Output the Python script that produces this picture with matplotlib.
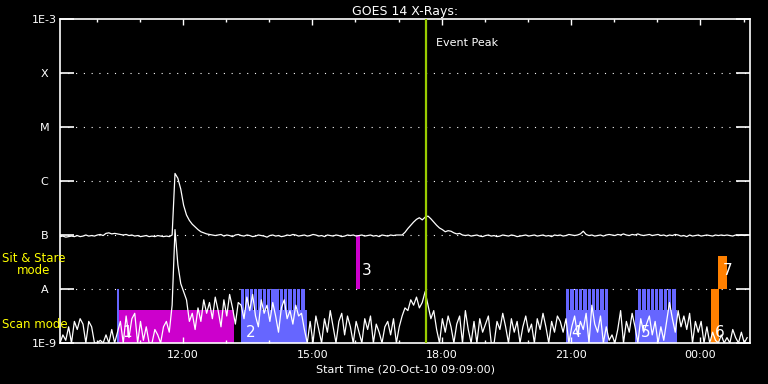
import numpy as np
import matplotlib
matplotlib.use('Agg')
import matplotlib.pyplot as plt
from matplotlib.ticker import FixedLocator, NullLocator

# ---- data (time in hours of day, flux as log10 W/m^2) ----
t_start = 9.15          # 09:09
t_end = 25.15           # 01:09 next day
cadence = 4.0 / 60.0    # 4 minute samples

# 0.5-4 A channel (lower curve)
short_log = [
    -9.0, -8.85, -8.95, -8.7, -9.0, -8.6, -8.75, -8.55, -8.65, -9.0, -8.6,
    -8.7, -9.0, -9.0, -8.95, -9.0, -8.85, -9.0, -8.75, -9.0,
    -8.8, -8.6, -9.0, -8.5, -8.9, -8.55, -8.45, -9.0, -8.6, -8.95, -8.7, -9.0, -9.0, -8.75, -8.85, -9.0, -8.7, -8.6, -8.8,
    -8.3, -6.9, -7.55, -7.9, -8.05, -8.2, -8.6, -8.45,
    -8.75, -8.35, -8.6, -8.2, -8.45, -8.25, -8.55, -8.15, -8.4, -8.7, -8.2, -8.5, -8.1, -8.35, -8.65, -8.25,
    -8.3, -8.55, -8.15, -8.4, -8.1, -8.5, -8.7, -8.2, -8.45, -8.3, -8.6, -8.25, -8.5, -8.8, -8.35, -8.2, -8.55, -8.4, -8.65, -8.3, -8.5, -8.45, -8.75,
    -9.0, -8.6, -9.0, -8.5, -8.75, -9.0, -8.55, -8.8, -8.4, -8.7, -9.0, -8.6, -8.45, -8.85, -8.5, -8.7, -9.0, -8.6, -8.8, -9.0, -8.55, -8.75, -8.5, -9.0, -8.65, -8.8, -9.0, -8.7, -8.6, -8.85, -8.55, -9.0,
    -8.7, -8.5, -8.35, -8.4, -8.2, -8.3, -8.15, -8.35, -8.25, -8.05, -8.3, -8.55, -8.4, -8.75,
    -9.0, -8.55, -8.8, -8.5, -8.7, -9.0, -8.65, -8.5, -9.0, -8.4, -8.75, -9.0, -8.6, -9.0, -8.55, -8.8, -8.65, -8.5, -9.0, -9.0, -8.6,
    -8.75, -8.45, -8.7, -9.0, -8.55, -8.8, -8.6, -9.0, -8.7, -8.5, -8.8, -8.65, -9.0, -8.55, -8.75, -8.45, -8.7, -9.0, -8.6, -8.8, -8.5,
    -8.6, -8.8, -8.55, -9.0, -8.7, -8.5, -8.85, -8.6, -8.75, -8.45, -9.0, -8.3, -8.65, -8.8, -8.5, -9.0, -8.7, -8.95, -8.85, -9.0,
    -8.75, -8.4, -9.0, -8.6, -8.8, -8.45, -8.7, -9.0, -8.55, -8.8, -8.65, -8.5, -8.85, -8.6, -9.0, -8.7, -8.95, -8.6, -8.25, -8.55,
    -8.8, -8.4, -8.7, -8.5, -8.75, -8.45, -9.0, -8.6, -8.8,
    -8.6, -9.0, -8.7, -9.0, -8.8, -8.95, -9.0, -8.85, -9.0, -8.9, -9.0, -8.75, -8.9, -9.0, -8.8, -9.0, -8.9,
]

# 1-8 A channel (upper curve)
long_log = [
    -7.03, -7.02, -7.04, -7.03, -7.02, -7.03, -7.01, -7.03, -7.02, -7.0, -7.02,
    -7.01, -7.02, -7.0, -6.99, -7.01, -6.97, -6.96, -6.98, -6.97,
    -6.98, -6.99, -7.0, -6.99, -7.01, -7.0, -7.02, -7.01, -7.03, -7.02, -7.01, -7.03, -7.02, -7.03, -7.01, -7.02, -7.03, -7.02, -7.03,
    -7.0, -5.86, -5.95, -6.15, -6.45, -6.63, -6.73, -6.8, -6.85, -6.9, -6.94, -6.96, -6.98, -6.99, -7.0,
    -7.01, -7.0, -6.99, -7.02, -7.0, -7.01, -7.03, -7.0, -6.99, -7.01, -7.02, -7.0, -7.01, -7.03, -7.02, -7.0,
    -7.01, -7.02, -7.04, -7.01, -7.0, -7.02, -7.01, -7.03, -7.02, -7.0, -7.01, -6.99, -7.0, -7.02, -7.01, -7.0,
    -7.02, -7.01, -6.99, -7.0, -7.02, -7.01, -7.03, -7.0, -7.01, -7.02, -7.0, -7.01, -7.03, -7.02, -7.0, -7.01,
    -7.0, -7.02, -7.01, -7.0, -7.02, -7.01, -7.0, -7.02, -7.01, -7.03, -7.0, -7.01, -7.02, -7.0, -7.01, -7.0, -7.0,
    -7.0, -6.95, -6.88, -6.82, -6.76, -6.71, -6.68, -6.72, -6.67, -6.65, -6.7, -6.76, -6.82, -6.87, -6.9, -6.94,
    -6.92, -6.93, -6.96, -6.98, -6.97, -7.0,
    -7.01, -7.0, -7.02, -7.01, -7.0, -7.02, -7.03, -7.01, -7.0, -7.02, -7.01, -7.03, -7.02, -7.0, -7.01, -7.02,
    -7.0, -7.01, -7.03, -7.02, -7.01, -7.0, -7.02, -7.01, -7.0, -7.02, -7.01, -7.0, -7.02, -7.01, -7.03, -7.0,
    -7.01, -7.0, -7.02, -7.01, -6.99, -7.0, -7.01, -7.0, -6.98, -6.93, -6.99, -7.01, -7.0, -7.02, -7.01, -7.0,
    -7.02, -7.0, -6.99, -7.0, -7.01, -6.99, -7.0, -6.98, -7.0, -7.01, -6.99, -7.0, -6.98, -7.0, -7.01, -7.0,
    -6.99, -7.01, -7.0, -6.99, -7.01, -7.0, -7.02, -7.0, -7.01, -6.99, -7.0, -7.02, -7.01, -7.03, -7.0, -7.02,
    -7.01, -7.0, -7.02, -7.01, -7.0, -7.01, -7.02, -7.0, -7.01, -7.0, -7.01, -7.0, -7.01, -7.02, -7.0, -7.01,
    -7.0, -7.01, -7.0,
]

# scan mode boxes (lower part, full)
scan_start = [10.52, 13.347, 20.883, 22.48]
scan_end = [13.18, 14.877, 21.857, 23.457]
scan_color = ['#cc00cc', '#6666ff', '#6666ff', '#6666ff']

# raster stripes above scan boxes
stripe_start = [13.347, 20.883, 22.55]
stripe_count = [15, 10, 9]
stripe_step = 0.1
stripe_width = 0.077

# full height scan-mode bars
bar_start = [10.47, 24.25]
bar_end = [10.52, 24.43]
bar_color = ['#6666ff', '#ff8000']

# sit & stare bars
ss_start = [16.01, 24.41]
ss_end = [16.11, 24.62]
ss_top = [1e-7, 4.1e-8]
ss_color = ['#cc00cc', '#ff8000']

# box numbers
num_text = ['1', '2', '3', '4', '5', '6', '7']
num_t = [10.6, 13.45, 16.15, 21.0, 22.62, 24.34, 24.52]
num_y = [1.15e-9, 1.15e-9, 1.6e-8, 1.15e-9, 1.15e-9, 1.15e-9, 1.6e-8]

event_peak = 17.637

ytick_vals = [1e-9, 1e-8, 1e-7, 1e-6, 1e-5, 1e-4, 1e-3]
ytick_labels = ['1E-9', 'A', 'B', 'C', 'M', 'X', '1E-3']
xtick_vals = [12, 15, 18, 21, 24]
xtick_labels = ['12:00', '15:00', '18:00', '21:00', '00:00']

# ---- plot ----
fig = plt.figure(figsize=(7.68, 3.84), dpi=100, facecolor='black')
ax = fig.add_axes([60 / 768, 41 / 384, 690 / 768, 324 / 384])
ax.set_facecolor('black')
ax.set_yscale('log')
ax.set_xlim(t_start, t_end)
ax.set_ylim(1e-9, 1e-3)

scan_top = 4.1e-9
for s, e, c in zip(scan_start, scan_end, scan_color):
    ax.bar(s, scan_top - 1e-9, width=e - s, bottom=1e-9, align='edge', color=c, lw=0, zorder=1,
           antialiased=False)
for s, n in zip(stripe_start, stripe_count):
    xs = s + np.arange(n) * stripe_step
    ax.bar(xs, 1e-8 - 1e-9, width=stripe_width, bottom=1e-9, align='edge', color='#6666ff', lw=0,
           zorder=1, antialiased=False)
for s, e, c in zip(bar_start, bar_end, bar_color):
    ax.bar(s, 1e-8 - 1e-9, width=e - s, bottom=1e-9, align='edge', color=c, lw=0, zorder=1,
           antialiased=False)
for s, e, top, c in zip(ss_start, ss_end, ss_top, ss_color):
    ax.bar(s, top - 1e-8, width=e - s, bottom=1e-8, align='edge', color=c, lw=0, zorder=1,
           antialiased=False)

for y in ytick_vals[1:-1]:
    ax.axhline(y, color='white', lw=0.8, ls=(0, (1, 6)), zorder=0.5)

t_short = t_start + np.arange(len(short_log)) * cadence
t_long = t_start + np.arange(len(long_log)) * cadence
ax.plot(t_short, 10 ** np.clip(short_log, -9.0, None), color='white', lw=0.9, zorder=3)
ax.plot(t_long, 10 ** np.array(long_log), color='white', lw=0.9, zorder=3)

ax.axvline(event_peak, color='#99cc00', lw=1.6, zorder=4)
ax.text(17.87, 10 ** -3.44, 'Event Peak', color='white', fontsize=8, va='center', ha='left')

for s, tx, ty in zip(num_text, num_t, num_y):
    ax.text(tx, ty, s, color='white', fontsize=11, ha='left', va='bottom', zorder=5)

for sp in ax.spines.values():
    sp.set_color('white')
    sp.set_linewidth(1.2)

ax.xaxis.set_major_locator(FixedLocator(xtick_vals))
ax.set_xticklabels(xtick_labels)
ax.xaxis.set_minor_locator(FixedLocator(np.arange(10, 26)))
ax.yaxis.set_major_locator(FixedLocator(ytick_vals))
ax.yaxis.set_minor_locator(NullLocator())
ax.set_yticklabels(ytick_labels)
ax.tick_params(axis='x', which='major', direction='in', top=True, bottom=True, length=4, width=1,
               colors='white', labelsize=8, pad=5)
ax.tick_params(axis='x', which='minor', direction='in', top=True, bottom=True, length=2.2, width=1,
               colors='white')
ax.tick_params(axis='y', which='major', direction='in', left=True, right=True, length=10, width=1.2,
               colors='white', labelsize=8, pad=11)
for lab in ax.get_yticklabels():
    lab.set_horizontalalignment('center')

ax.set_title('GOES 14 X-Rays:', color='white', fontsize=9, pad=3)
ax.set_xlabel('Start Time (20-Oct-10 09:09:00)', color='white', fontsize=8, labelpad=3)

fig.text(2 / 768, 1 - 258 / 384, 'Sit & Stare', color='yellow', fontsize=8.5, va='center', ha='left')
fig.text(34 / 768, 1 - 271 / 384, 'mode', color='yellow', fontsize=8.5, va='center', ha='center')
fig.text(2 / 768, 1 - 324 / 384, 'Scan mode', color='yellow', fontsize=8.5, va='center', ha='left')

fig.savefig('out.png', dpi=100, facecolor='black')
